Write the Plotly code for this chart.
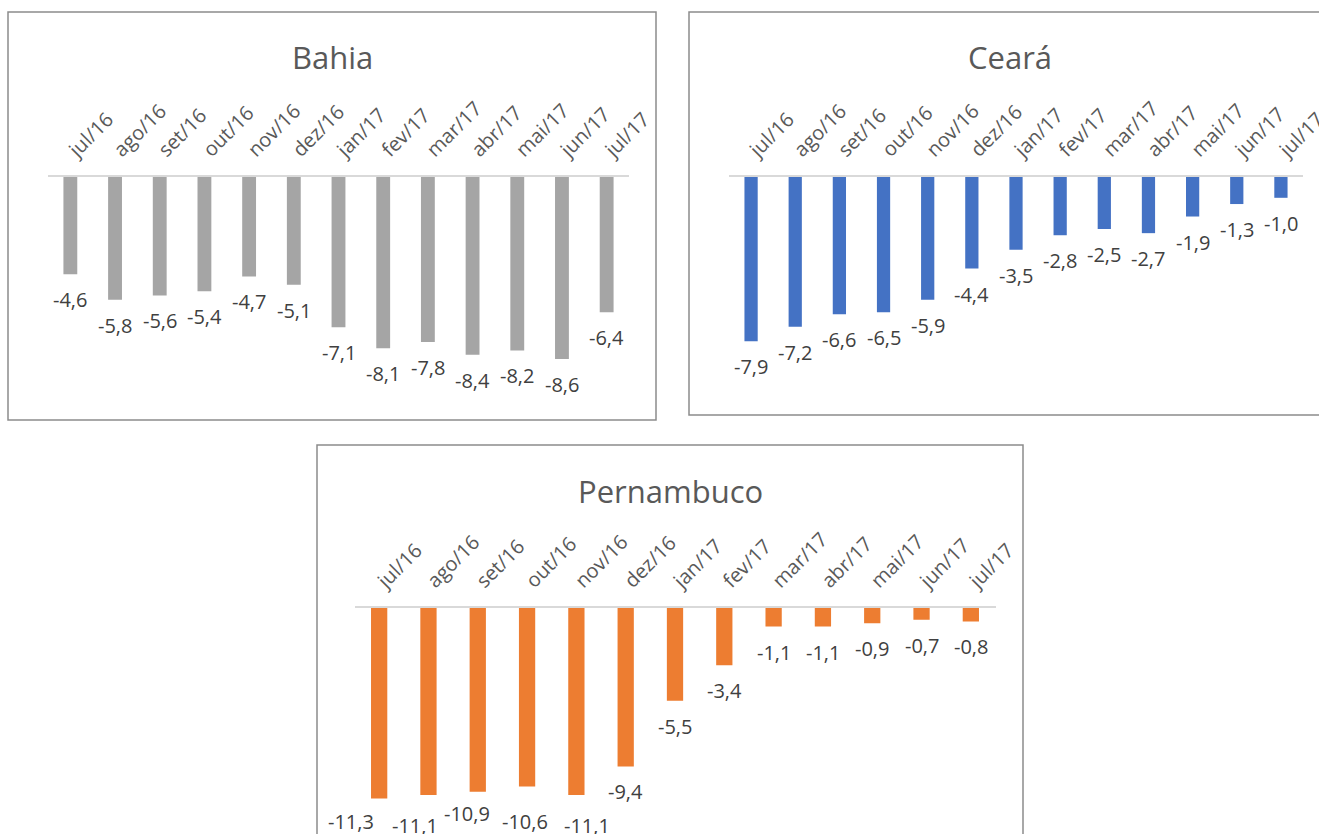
import plotly.graph_objects as go

W, H = 1319, 834

months = ["jul/16", "ago/16", "set/16", "out/16", "nov/16", "dez/16", "jan/17",
          "fev/17", "mar/17", "abr/17", "mai/17", "jun/17", "jul/17"]
bahia = [-4.6, -5.8, -5.6, -5.4, -4.7, -5.1, -7.1, -8.1, -7.8, -8.4, -8.2, -8.6, -6.4]
ceara = [-7.9, -7.2, -6.6, -6.5, -5.9, -4.4, -3.5, -2.8, -2.5, -2.7, -1.9, -1.3, -1.0]
pernambuco = [-11.3, -11.1, -10.9, -10.6, -11.1, -9.4, -5.5, -3.4, -1.1, -1.1, -0.9, -0.7, -0.8]

titles = ["Bahia", "Ceará", "Pernambuco"]
series = [bahia, ceara, pernambuco]
colors = ["#A5A5A5", "#4472C4", "#ED7D31"]

# layout geometry in pixels: (x_left, x_right, zero_y, bottom_y, px_per_unit, bar width)
geom = [
    (48, 629, 177, 410, 21.15, 0.31),
    (729, 1303, 177, 405, 20.8, 0.30),
    (354.5, 995.5, 608, 834, 16.85, 0.33),
]
boxes = [(8, 12, 656, 420), (689, 12, 1331, 415), (317, 445, 1023, 850)]
title_pos = [(332, 57), (1010, 57), (671, 491)]

# label placement nudges (pixels) - Excel pushes crowded bottom labels apart
zeros = [0] * 13
label_xshift = [zeros, zeros, [-28, -13, -11, -2, 11, 0, 0, 0, 0, 0, 0, 0, 0]]
label_yshift = [zeros, zeros, [2, -5, 4, -9, -5, 0, 0, 0, 0, 0, 0, 0, 0]]

FONT = "Open Sans"

def fmt(v):
    return f"{v:.1f}".replace(".", ",")

fig = go.Figure()
layout = dict(
    width=W, height=H, autosize=False, margin=dict(l=0, r=0, t=0, b=0, pad=0),
    paper_bgcolor="white", plot_bgcolor="white", showlegend=False,
    font=dict(family=FONT, color="#595959"),
)
annotations = []
shapes = []

for i, (vals, col, g) in enumerate(zip(series, colors, geom)):
    xl, xr, zy, by, scale, bw = g
    xa = "x" if i == 0 else f"x{i+1}"
    ya = "y" if i == 0 else f"y{i+1}"
    fig.add_trace(go.Bar(
        x=months, y=vals, marker=dict(color=col, line=dict(width=0)),
        width=bw, xaxis=xa, yaxis=ya, hoverinfo="skip",
    ))
    xkey = "xaxis" if i == 0 else f"xaxis{i+1}"
    ykey = "yaxis" if i == 0 else f"yaxis{i+1}"
    layout[xkey] = dict(
        domain=[xl / W, xr / W], anchor=ya, side="top", type="category",
        range=[-0.5, len(months) - 0.5], showgrid=False, zeroline=False,
        showline=True, linecolor="#D9D9D9", linewidth=2, ticks="",
        tickangle=-45, tickfont=dict(family=FONT, size=20, color="#595959"),
        ticklabelstandoff=6, fixedrange=True, automargin=False,
    )
    layout[ykey] = dict(
        domain=[1 - by / H, 1 - zy / H], anchor=xa,
        range=[-(by - zy) / scale, 0], visible=False, showgrid=False,
        zeroline=False, fixedrange=True, automargin=False,
    )
    for j, (m, v) in enumerate(zip(months, vals)):
        annotations.append(dict(
            x=m, y=v, xref=xa, yref=ya, text=fmt(v), showarrow=False,
            xanchor="center", yanchor="top",
            xshift=label_xshift[i][j], yshift=-10 + label_yshift[i][j],
            font=dict(family=FONT, size=20, color="#404040"),
        ))
    tx, ty = title_pos[i]
    annotations.append(dict(
        x=tx / W, y=1 - ty / H, xref="paper", yref="paper", text=titles[i],
        showarrow=False, xanchor="center", yanchor="middle",
        font=dict(family=FONT, size=31, color="#595959"),
    ))
    x0, y0, x1, y1 = boxes[i]
    shapes.append(dict(
        type="rect", xref="paper", yref="paper",
        x0=x0 / W, x1=x1 / W, y0=1 - y1 / H, y1=1 - y0 / H,
        line=dict(color="#8C8C8C", width=1.5), fillcolor="rgba(0,0,0,0)",
        layer="below",
    ))

layout["annotations"] = annotations
layout["shapes"] = shapes
fig.update_layout(**layout)
fig.write_html("out.html", config={"responsive": False, "displayModeBar": False})
